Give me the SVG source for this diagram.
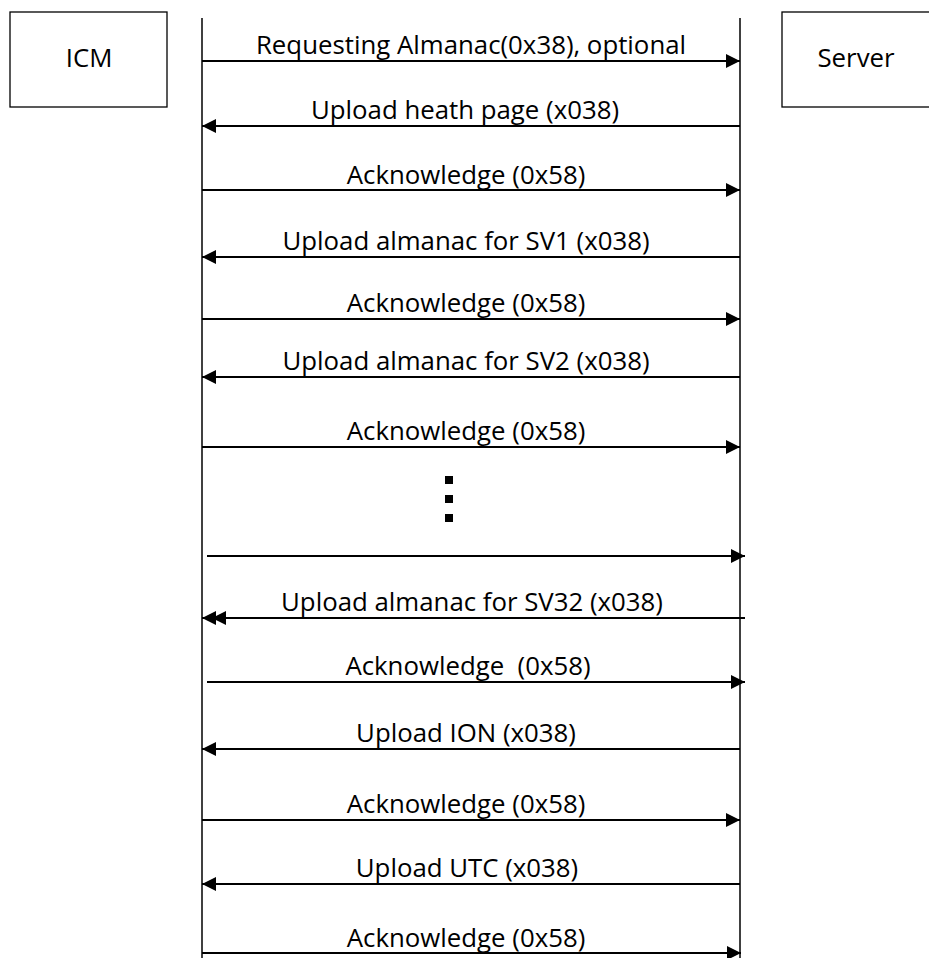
<svg xmlns="http://www.w3.org/2000/svg" width="929" height="958" viewBox="0 0 929 958">
<defs>
<style>
.box{fill:#fff;stroke:#000;stroke-width:1.3}
.life{stroke:#000;stroke-width:1.5;fill:none}
.msg{stroke:#000;stroke-width:2;fill:none}
.fwd{marker-end:url(#ah)}
.lbl{font-family:"Open Sans","Noto Sans",sans-serif;font-size:25.8px;fill:#000;text-anchor:middle;white-space:pre}
</style>
<marker id="ah" markerUnits="userSpaceOnUse" markerWidth="16" markerHeight="16" viewBox="0 0 16 16" refX="15" refY="8" orient="auto">
<path d="M1,1 L15,8 L1,15 Z" fill="#000"/>
</marker>
<marker id="ah2" markerUnits="userSpaceOnUse" markerWidth="26" markerHeight="16" viewBox="0 0 26 16" refX="25" refY="8" orient="auto">
<path d="M1,1 L15,8 L1,15 Z M11,1 L25,8 L11,15 Z" fill="#000"/>
</marker>
</defs>
<rect width="929" height="958" fill="#fff"/>
<g id="icm">
<rect class="box" x="10" y="12" width="157" height="95"/>
<text class="lbl" x="89" y="67">ICM</text>
</g>
<g id="server">
<rect class="box" x="782" y="12" width="160" height="95"/>
<text class="lbl" x="856" y="67">Server</text>
</g>
<g id="lifelines">
<line class="life" x1="202" y1="18" x2="202" y2="958"/>
<line class="life" x1="740" y1="18" x2="740" y2="958"/>
</g>
<g id="connectors">
<line class="msg fwd" x1="202" y1="61" x2="740" y2="61"/>
<line class="msg fwd" x1="740" y1="126" x2="202" y2="126"/>
<line class="msg fwd" x1="202" y1="190" x2="740" y2="190"/>
<line class="msg fwd" x1="740" y1="257" x2="202" y2="257"/>
<line class="msg fwd" x1="202" y1="319" x2="740" y2="319"/>
<line class="msg fwd" x1="740" y1="377" x2="202" y2="377"/>
<line class="msg fwd" x1="202" y1="447" x2="740" y2="447"/>
<line class="msg fwd" x1="207" y1="556" x2="745" y2="556"/>
<line class="msg" x1="745" y1="618" x2="202" y2="618" marker-end="url(#ah2)"/>
<line class="msg fwd" x1="207" y1="682" x2="745" y2="682"/>
<line class="msg fwd" x1="740" y1="749" x2="202" y2="749"/>
<line class="msg fwd" x1="202" y1="820" x2="740" y2="820"/>
<line class="msg fwd" x1="740" y1="884" x2="202" y2="884"/>
<line class="msg fwd" x1="202" y1="953" x2="741" y2="953"/>
</g>
<g id="labels">
<text class="lbl" x="471" y="54">Requesting Almanac(0x38), optional</text>
<text class="lbl" x="465" y="119">Upload heath page (x038)</text>
<text class="lbl" x="466" y="184">Acknowledge (0x58)</text>
<text class="lbl" x="466" y="250">Upload almanac for SV1 (x038)</text>
<text class="lbl" x="466" y="312">Acknowledge (0x58)</text>
<text class="lbl" x="466" y="370">Upload almanac for SV2 (x038)</text>
<text class="lbl" x="466" y="440">Acknowledge (0x58)</text>
<text class="lbl" x="472" y="611">Upload almanac for SV32 (x038)</text>
<text class="lbl" x="468" y="675">Acknowledge  (0x58)</text>
<text class="lbl" x="466" y="742">Upload ION (x038)</text>
<text class="lbl" x="466" y="813">Acknowledge (0x58)</text>
<text class="lbl" x="467" y="877">Upload UTC (x038)</text>
<text class="lbl" x="466" y="947">Acknowledge (0x58)</text>
</g>
<g id="ellipsis" fill="#000">
<rect x="445" y="476" width="8" height="8"/>
<rect x="445" y="495" width="8" height="8"/>
<rect x="445" y="514" width="8" height="8"/>
</g>
</svg>
